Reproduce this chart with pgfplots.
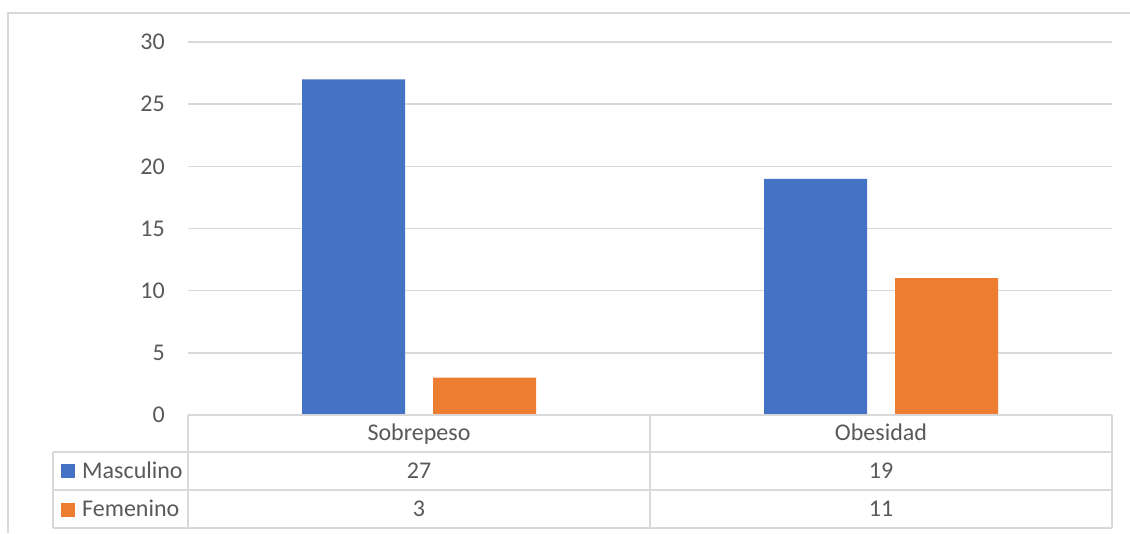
\documentclass[border=0pt]{standalone}
\usepackage{pgfplots}
\pgfplotsset{compat=1.18}
\usepackage{pgfplotstable}
\usepackage{fontspec}
\setmainfont{Carlito}

\definecolor{masc}{HTML}{4472C4}
\definecolor{fem}{HTML}{ED7D31}
\definecolor{lineas}{HTML}{D9D9D9}
\definecolor{texto}{HTML}{595959}

% Casos por categoría y sexo
\pgfplotstableread{
x   M   F
0.5 27  3
1.5 19  11
}\datos

\pgfplotstablegetelem{0}{M}\of\datos \let\mA\pgfplotsretval
\pgfplotstablegetelem{1}{M}\of\datos \let\mB\pgfplotsretval
\pgfplotstablegetelem{0}{F}\of\datos \let\fA\pgfplotsretval
\pgfplotstablegetelem{1}{F}\of\datos \let\fB\pgfplotsretval

\begin{document}
\begin{tikzpicture}[x=1pt, y=1pt, font=\fontsize{24}{28}\selectfont]
\path[use as bounding box] (0,0) rectangle (1130,533);
% marco exterior
\draw[lineas, line width=1.5pt] (8,0) -- (8,520) -- (1130,520);

\begin{axis}[
  at={(188pt,118pt)}, anchor=south west,
  scale only axis, width=924pt, height=373pt,
  xmin=0, xmax=2, ymin=0, ymax=30,
  ytick={0,5,...,30}, xtick=\empty,
  axis line style={draw=none},
  major tick length=0pt,
  ymajorgrids, grid style={lineas, line width=1.5pt},
  /pgf/number format/assume math mode=true,
  yticklabel style={font=\fontsize{24}{28}\selectfont, text=texto, anchor=east, inner sep=0pt, xshift=-23pt},
  ybar, bar width=103pt,
  clip=false,
]
\addplot[fill=masc, draw=none, bar shift=-65.5pt] table[x=x, y=M]{\datos};
\addplot[fill=fem, draw=none, bar shift=65.5pt] table[x=x, y=F]{\datos};
\end{axis}

% tabla de datos
\begin{scope}[lineas, line width=1.5pt]
\draw (188,118) -- (1112,118);
\draw (53,81) -- (1112,81);
\draw (53,43) -- (1112,43);
\draw (53,5) -- (1112,5);
\draw (53,81) -- (53,5);
\draw (188,118) -- (188,5);
\draw (650,118) -- (650,5);
\draw (1112,118) -- (1112,5);
\end{scope}

\begin{scope}[every node/.style={text=texto, inner sep=0pt, anchor=base}]
\node at (419,92) {Sobrepeso};
\node at (881,92) {Obesidad};
\node at (419,54.5) {\mA};
\node at (881,54.5) {\mB};
\node at (419,16.5) {\fA};
\node at (881,16.5) {\fB};
\node[anchor=base west] at (82,54.7) {Masculino};
\node[anchor=base west] at (82,16.3) {Femenino};
\end{scope}
\fill[masc] (61,55) rectangle (75,69);
\fill[fem] (61,16.5) rectangle (75,30.5);
\end{tikzpicture}
\end{document}
